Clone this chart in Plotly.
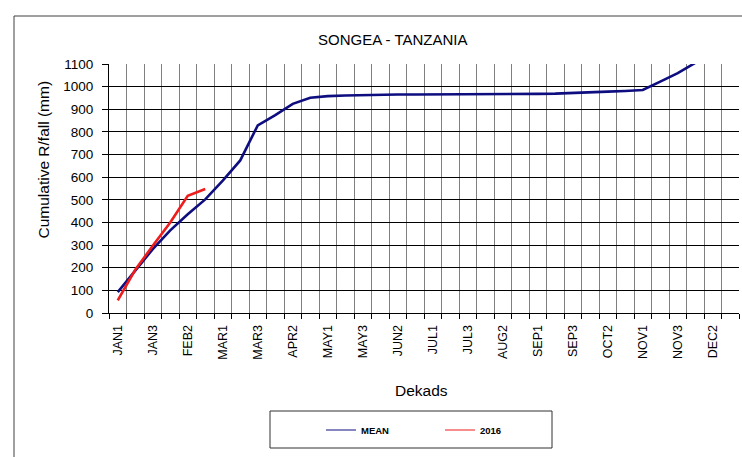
import plotly.graph_objects as go

DEKADS = ["JAN1", "JAN2", "JAN3", "FEB1", "FEB2", "FEB3", "MAR1", "MAR2", "MAR3",
          "APR1", "APR2", "APR3", "MAY1", "MAY2", "MAY3", "JUN1", "JUN2", "JUN3",
          "JUL1", "JUL2", "JUL3", "AUG1", "AUG2", "AUG3", "SEP1", "SEP2", "SEP3",
          "OCT1", "OCT2", "OCT3", "NOV1", "NOV2", "NOV3", "DEC1", "DEC2", "DEC3"]
MEAN_MM = [92, 188, 282, 365, 436, 502, 585, 674, 829, 874, 924, 951,
           958, 961, 963, 964, 965, 965, 965, 966, 966, 967, 967, 968,
           968, 969, 971, 974, 978, 981, 985, 1022, 1060, 1105, 1150, 1195]
Y2016_MM = [56, 191, 297, 400, 518, 548]
TICK_TEXT = [d if i % 2 == 0 else "" for i, d in enumerate(DEKADS)]

FONT = "Liberation Sans, Arial, sans-serif"
NAVY = "#0d0d80"
RED = "#ee1c1c"

W, H = 742, 457
PL, PR, PT, PB = 109, 739, 64, 313          # plot area in pixels
L, T = PL, PT
R = W - PR
B = H - PB
PW, PH = PR - PL, PB - PT


def px(x):  # pixel x -> paper
    return (x - PL) / PW


def py(y):  # pixel y -> paper
    return (PB - y) / PH


fig = go.Figure()
fig.add_trace(go.Scatter(x=DEKADS, y=MEAN_MM, mode="lines", name="MEAN",
                         line=dict(color=NAVY, width=2.6), showlegend=False))
fig.add_trace(go.Scatter(x=DEKADS[:len(Y2016_MM)], y=Y2016_MM, mode="lines", name="2016",
                         line=dict(color=RED, width=2.6), showlegend=False))
# legend entries (thin sample lines, as in the reference)
fig.add_trace(go.Scatter(x=[None], y=[None], mode="lines", name="MEAN",
                         line=dict(color=NAVY, width=1)))
fig.add_trace(go.Scatter(x=[None], y=[None], mode="lines", name="2016",
                         line=dict(color=RED, width=1)))

fig.update_layout(
    width=W, height=H,
    margin=dict(l=L, r=R, t=T, b=B),
    paper_bgcolor="white", plot_bgcolor="white",
    font=dict(family=FONT, color="black"),
    showlegend=True,
    legend=dict(orientation="h", x=px(321), y=py(430), xanchor="left", yanchor="middle",
                font=dict(family=FONT, size=9.5, color="black", weight="bold"),
                entrywidth=74, entrywidthmode="pixels",
                bgcolor="rgba(0,0,0,0)", borderwidth=0),
    xaxis=dict(type="category", categoryorder="array", categoryarray=DEKADS,
               range=[-0.5, 35.5], tickmode="array", tickvals=DEKADS, ticktext=TICK_TEXT,
               tickson="boundaries", ticks="outside", ticklen=5, tickcolor="black",
               tickangle=-90, tickfont=dict(size=12.5, family=FONT, color="black"),
               ticklabelstandoff=6, automargin=False,
               showgrid=True, gridcolor="#808080", gridwidth=1,
               showline=True, linecolor="black", linewidth=1, zeroline=False),
    yaxis=dict(range=[0, 1100], dtick=100, tick0=0, ticks="outside", ticklen=6,
               tickcolor="black", tickfont=dict(size=13.5, family=FONT, color="black"),
               ticklabelstandoff=6, automargin=False,
               showgrid=True, gridcolor="black", gridwidth=1,
               showline=True, linecolor="black", linewidth=1, zeroline=False),
    annotations=[
        dict(text="SONGEA - TANZANIA", x=px(392), y=py(40), xref="paper", yref="paper",
             showarrow=False, xanchor="center", yanchor="middle",
             font=dict(size=15, family=FONT, color="black")),
        dict(text="Cumulative R/fall (mm)", x=px(43), y=py(159.5), xref="paper", yref="paper",
             showarrow=False, xanchor="center", yanchor="middle", textangle=-90,
             font=dict(size=15.5, family=FONT, color="black")),
        dict(text="Dekads", x=px(421), y=py(390), xref="paper", yref="paper",
             showarrow=False, xanchor="center", yanchor="middle",
             font=dict(size=15.5, family=FONT, color="black")),
    ],
    shapes=[
        dict(type="rect", xref="paper", yref="paper", x0=px(14), x1=px(800), y0=py(520), y1=py(16),
             line=dict(color="#404040", width=1), fillcolor="rgba(0,0,0,0)", layer="below"),
        dict(type="rect", xref="paper", yref="paper", x0=px(270), x1=px(552), y0=py(448), y1=py(411),
             line=dict(color="#303030", width=1), fillcolor="rgba(0,0,0,0)"),
    ],
)

fig.write_html("out.html", config={"displayModeBar": False},
               post_script="document.body.style.margin='0';document.body.style.overflow='hidden';")
